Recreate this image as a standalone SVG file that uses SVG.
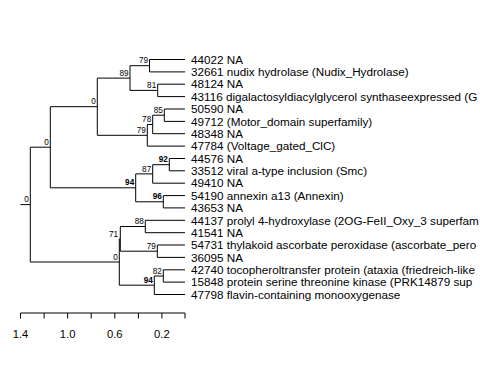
<svg xmlns="http://www.w3.org/2000/svg" width="480" height="384" viewBox="0 0 480 384">
<style>
.e{stroke:#000;stroke-width:1;fill:none}
.t{font-family:"Liberation Sans",Arial,sans-serif;font-size:11.7px;fill:#000}
.n{font-family:"Liberation Sans",Arial,sans-serif;font-size:8.2px;fill:#000;text-anchor:end}
.b{font-weight:bold}
.a{font-family:"Liberation Sans",Arial,sans-serif;font-size:11.2px;fill:#000;text-anchor:middle}
</style>
<rect width="480" height="384" fill="#fff"/>
<g id="connectors" class="e">
<path d="M20.5,204.6H30.3M30.3,147.2V262M30.3,147.2H50.3M30.3,262H119.3"/>
<path d="M50.3,106.7V187.8M50.3,106.7H97.3M50.3,187.8H135.7"/>
<path d="M97.3,78.1V135.3M97.3,78.1H130M97.3,135.3H147.3"/>
<path d="M130,65.7V90.4M130,65.7H149.5M130,90.4H157.7"/>
<path d="M149.5,59.5V71.9M149.5,59.5H185M149.5,71.9H185"/>
<path d="M157.7,84.2V96.6M157.7,84.2H185M157.7,96.6H185"/>
<path d="M147.3,124.5V146.1M147.3,124.5H152.7M147.3,146.1H185"/>
<path d="M152.7,115.2V133.7M152.7,115.2H164.3M152.7,133.7H185"/>
<path d="M164.3,109V121.4M164.3,109H185M164.3,121.4H185"/>
<path d="M135.7,173.9V201.8M135.7,173.9H152.7M135.7,201.8H163.3"/>
<path d="M152.7,164.7V183.2M152.7,164.7H169.3M152.7,183.2H185"/>
<path d="M169.3,158.5V170.8M169.3,158.5H185M169.3,170.8H185"/>
<path d="M163.3,195.6V207.9M163.3,195.6H185M163.3,207.9H185"/>
<path d="M119.3,238.9V285.2M119.3,238.9H120.3M119.3,285.2H154.3"/>
<path d="M120.3,226.5V251.2M120.3,226.5H145.3M120.3,251.2H157.3"/>
<path d="M145.3,220.3V232.7M145.3,220.3H185M145.3,232.7H185"/>
<path d="M157.3,245V257.4M157.3,245H185M157.3,257.4H185"/>
<path d="M154.3,276V294.5M154.3,276H163.3M154.3,294.5H185"/>
<path d="M163.3,269.8V282.1M163.3,269.8H185M163.3,282.1H185"/>
</g>
<g id="support">
<g id="n-root"><text class="n" x="28.8" y="202.3">0</text></g>
<g id="n-A"><text class="n" x="48.8" y="144.8">0</text></g>
<g id="n-B"><text class="n" x="95.8" y="104.3">0</text></g>
<g id="n-D"><text class="n" x="128.5" y="75.7">89</text></g>
<g id="n-F"><text class="n" x="148" y="63.3">79</text></g>
<g id="n-G"><text class="n" x="156.2" y="88">81</text></g>
<g id="n-E"><text class="n" x="145.8" y="132.9">79</text></g>
<g id="n-H"><text class="n" x="151.2" y="122.1">78</text></g>
<g id="n-I"><text class="n" x="162.8" y="112.8">85</text></g>
<g id="n-C"><text class="n b" x="134.2" y="185.4">94</text></g>
<g id="n-J"><text class="n" x="151.2" y="171.5">87</text></g>
<g id="n-L"><text class="n b" x="167.8" y="162.3">92</text></g>
<g id="n-K"><text class="n b" x="161.8" y="199.4">96</text></g>
<g id="n-M"><text class="n" x="117.8" y="259.6">0</text></g>
<g id="n-N"><text class="n" x="118" y="236.5">71</text></g>
<g id="n-O"><text class="n" x="143.8" y="224.1">88</text></g>
<g id="n-P"><text class="n" x="155.8" y="248.8">79</text></g>
<g id="n-Q"><text class="n b" x="152.8" y="282.8">94</text></g>
<g id="n-R"><text class="n" x="161.8" y="273.6">82</text></g>
</g>
<g id="leaves" class="t">
<g id="leaf-44022"><text x="191" y="63.7">44022 NA</text></g>
<g id="leaf-32661"><text x="191" y="76.1">32661 nudix hydrolase (Nudix_Hydrolase)</text></g>
<g id="leaf-48124"><text x="191" y="88.4">48124 NA</text></g>
<g id="leaf-43116"><text x="191" y="100.8">43116 digalactosyldiacylglycerol synthaseexpressed (G</text></g>
<g id="leaf-50590"><text x="191" y="113.2">50590 NA</text></g>
<g id="leaf-49712"><text x="191" y="125.6">49712 (Motor_domain superfamily)</text></g>
<g id="leaf-48348"><text x="191" y="137.9">48348 NA</text></g>
<g id="leaf-47784"><text x="191" y="150.3">47784 (Voltage_gated_ClC)</text></g>
<g id="leaf-44576"><text x="191" y="162.7">44576 NA</text></g>
<g id="leaf-33512"><text x="191" y="175">33512 viral a-type inclusion (Smc)</text></g>
<g id="leaf-49410"><text x="191" y="187.4">49410 NA</text></g>
<g id="leaf-54190"><text x="191" y="199.8">54190 annexin a13 (Annexin)</text></g>
<g id="leaf-43653"><text x="191" y="212.1">43653 NA</text></g>
<g id="leaf-44137"><text x="191" y="224.5">44137 prolyl 4-hydroxylase (2OG-FeII_Oxy_3 superfam</text></g>
<g id="leaf-41541"><text x="191" y="236.9">41541 NA</text></g>
<g id="leaf-54731"><text x="191" y="249.2">54731 thylakoid ascorbate peroxidase (ascorbate_pero</text></g>
<g id="leaf-36095"><text x="191" y="261.6">36095 NA</text></g>
<g id="leaf-42740"><text x="191" y="274">42740 tocopheroltransfer protein (ataxia (friedreich-like</text></g>
<g id="leaf-15848"><text x="191" y="286.3">15848 protein serine threonine kinase (PRK14879 sup</text></g>
<g id="leaf-47798"><text x="191" y="298.7">47798 flavin-containing monooxygenase</text></g>
</g>
<g id="axis">
<path class="e" d="M20.5,313H185M20.5,313V318.5M44.1,313V318.5M67.6,313V318.5M91.2,313V318.5M114.8,313V318.5M138.4,313V318.5M161.9,313V318.5M185,313V318.5"/>
<text class="a" x="20.5" y="338">1.4</text>
<text class="a" x="67.6" y="338">1.0</text>
<text class="a" x="114.8" y="338">0.6</text>
<text class="a" x="161.9" y="338">0.2</text>
</g>
</svg>
